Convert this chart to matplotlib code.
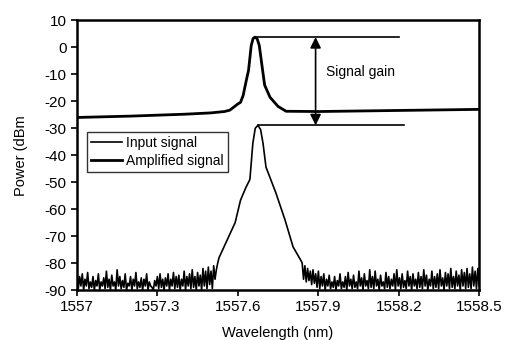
import numpy as np
import matplotlib
matplotlib.use("Agg")
import matplotlib.pyplot as plt

plt.rcParams['font.family'] = ['Liberation Sans', 'DejaVu Sans']
plt.rcParams['axes.unicode_minus'] = False

# amplified signal (upper trace)
amp_wl = [1557.0, 1557.2, 1557.4, 1557.5, 1557.55, 1557.57, 1557.60, 1557.61, 1557.62,
          1557.63, 1557.64, 1557.65, 1557.657, 1557.664, 1557.672, 1557.68, 1557.69,
          1557.70, 1557.72, 1557.75, 1557.78, 1557.9, 1558.2, 1558.5]
amp_db = [-26.0, -25.5, -24.8, -24.3, -23.8, -23.3, -21.0, -20.4, -17.8,
          -13.0, -8.5, 0.7, 3.3, 3.8, 3.2, 0.7, -6.7,
          -14.0, -18.5, -21.9, -23.7, -23.8, -23.4, -23.0]

# input signal (lower trace): noise floor left, peak, noise floor right
noise_left = [-83, -89.5, -85, -88.5, -84, -90, -86, -88.5, -83.5, -89.5, -87, -89, -85, -90,
              -86.5, -88.5, -84, -90, -87, -88.5, -85.5, -89.5, -83, -89, -86, -90, -84.5,
              -88.5, -87, -90, -82.5, -88.5, -85, -89.5, -86.5, -89, -84, -90, -87.5, -88.5,
              -85, -90, -86, -88.5, -83.5, -89.5, -87, -89, -85.5, -90, -86, -88.5, -84,
              -90, -87, -88.5, -89, -90, -86.5, -88.5, -85, -89.5, -84, -89, -86, -90,
              -85.5, -88.5, -84, -90, -86, -88.5, -83.5, -89.5, -85, -89, -84.5, -90, -86,
              -88.5, -83, -90, -85, -88.5, -84, -89.5, -82.5, -89, -85, -90, -83.5, -88.5,
              -84.5, -90, -82, -88.5, -83, -89.5, -81.5, -88, -83, -89.5, -81, -86, -82.5, -80]
peak_wl = [1557.53, 1557.555, 1557.59, 1557.61, 1557.63, 1557.645, 1557.656, 1557.665,
           1557.675, 1557.685, 1557.694, 1557.705, 1557.742, 1557.776, 1557.806, 1557.835]
peak_db = [-78, -72.6, -65, -56.7, -52, -49, -35.6, -30,
           -28.9, -30.5, -35.6, -44.4, -54, -64, -74, -79]
noise_right = [-80, -86, -81, -87, -82, -86.5, -83, -88, -82.5, -87.5, -84, -89, -83, -89.5,
               -85, -88.5, -84, -90, -86, -88.5, -84.5, -89.5, -87, -89, -85, -90, -86.5,
               -88.5, -84, -89.5, -87, -89, -85, -90, -83.5, -88.5, -86, -89.5, -84.5, -89,
               -87, -89.5, -83, -88.5, -85.5, -90, -84, -88.5, -86.5, -89.5, -82.5, -89, -85,
               -89.5, -83, -88.5, -86, -90, -84.5, -88.5, -87, -89.5, -83.5, -89, -85, -89.5,
               -86, -88.5, -84, -90, -82.5, -88.5, -85.5, -89.5, -84, -89, -86.5, -89.5, -83,
               -88.5, -85, -90, -84, -88.5, -86, -89.5, -83.5, -89, -85, -89.5, -82.5, -88.5,
               -84.5, -90, -86, -88.5, -83, -89.5, -85, -89, -84, -89.5, -82.5, -88.5, -85.5,
               -90, -83.5, -88.5, -84, -89.5, -82, -89, -85, -89.5, -83, -88.5, -84.5, -90,
               -82.5, -88.5, -83.5, -89.5, -82, -89, -84, -89.5, -81.5, -88.5, -83, -89.5, -82, -88.5]

left_wl = np.linspace(1557.0, 1557.525, len(noise_left))
right_wl = np.linspace(1557.84, 1558.5, len(noise_right))
inp_wl = np.concatenate([left_wl, peak_wl, right_wl])
inp_db = np.concatenate([noise_left, peak_db, noise_right])

xticks = [1557, 1557.3, 1557.6, 1557.9, 1558.2, 1558.5]
xticklabels = ['1557', '1557.3', '1557.6', '1557.9', '1558.2', '1558.5']
yticks = [10, 0, -10, -20, -30, -40, -50, -60, -70, -80, -90]

fig = plt.figure(figsize=(5.06, 3.40), dpi=100)
ax = fig.add_axes([0.152, 0.147, 0.795, 0.793])

ax.plot(inp_wl, inp_db, color='black', lw=1.2, label='Input signal')
ax.plot(amp_wl, amp_db, color='black', lw=2.0, label='Amplified signal')

# guide lines and gain arrow
amp_peak = max(amp_db)
inp_peak = max(peak_db)
ax.plot([amp_wl[int(np.argmax(amp_db))], 1558.2], [amp_peak, amp_peak], color='black', lw=1.2)
ax.plot([peak_wl[int(np.argmax(peak_db))], 1558.22], [inp_peak, inp_peak], color='black', lw=1.2)
ax.annotate('', xy=(1557.89, amp_peak), xytext=(1557.89, inp_peak),
            arrowprops=dict(arrowstyle='<|-|>', color='black', lw=1.2,
                            mutation_scale=16, shrinkA=0, shrinkB=0))
ax.text(1557.93, -9, 'Signal gain', fontsize=10, va='center', ha='left')

ax.set_xlim(1557, 1558.5)
ax.set_ylim(-90, 10)
ax.set_xticks(xticks)
ax.set_xticklabels(xticklabels)
ax.set_yticks(yticks)
ax.tick_params(direction='out', length=4, width=1.2, labelsize=11, colors='black')
for s in ax.spines.values():
    s.set_linewidth(1.8)

ax.set_xlabel('Wavelength (nm)', fontsize=10.5, labelpad=8)
ax.set_ylabel('Power (dBm', fontsize=10.5, labelpad=12)

leg = ax.legend(loc='upper left', bbox_to_anchor=(0.025, 0.587), fontsize=10,
                frameon=True, fancybox=False, edgecolor='black', handlelength=2.2,
                borderpad=0.3, labelspacing=0.3, handletextpad=0.3, borderaxespad=0)
leg.get_frame().set_linewidth(1.0)

fig.savefig('out.png', dpi=100)
